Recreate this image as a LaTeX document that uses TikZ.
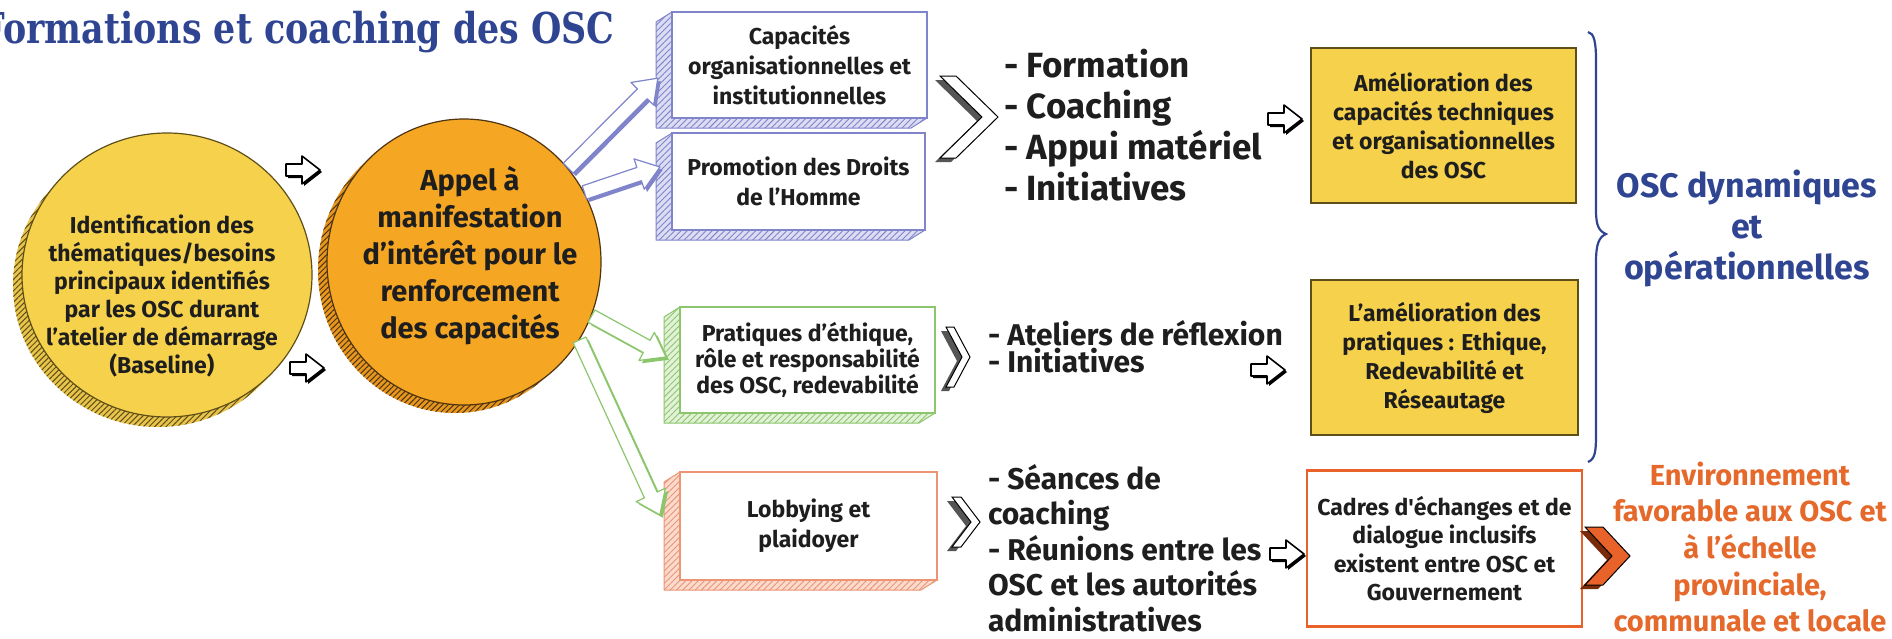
\documentclass[tikz,border=0pt]{standalone}
\usepackage{fontspec}
\setmainfont{Fira Sans}
\newfontfamily\titlefont[FakeStretch=0.82]{DejaVu Serif}
\usetikzlibrary{shapes.geometric,patterns,patterns.meta,calc,decorations.pathmorphing}
\definecolor{titleblue}{HTML}{2F4592}
\definecolor{cyellow}{HTML}{F6D24C}
\definecolor{cyellowsh}{HTML}{E9C44A}
\definecolor{yellowedge}{HTML}{5E4E18}
\definecolor{corange}{HTML}{F5A623}
\definecolor{corangesh}{HTML}{E7961E}
\definecolor{orangeedge}{HTML}{4E3410}
\definecolor{bluehatch}{HTML}{7F84CB}
\definecolor{bluelight}{HTML}{DCDDF2}
\definecolor{greenhatch}{HTML}{8CC66C}
\definecolor{greenlight}{HTML}{E3F1D9}
\definecolor{salmonhatch}{HTML}{EC9474}
\definecolor{salmonlight}{HTML}{FADBCD}
\definecolor{orangetext}{HTML}{E6692C}
\definecolor{orangeline}{HTML}{E8622A}
\definecolor{orangedark}{HTML}{7A2A08}
\definecolor{darktext}{HTML}{1E1E1E}
\definecolor{chevshade}{HTML}{555555}

\tikzset{
  dbody/.style={text=darktext, align=center, inner sep=0pt, outer sep=0pt},
  dface/.style={draw=#1, line width=0.6pt, fill=white, inner sep=0pt, outer sep=0pt},
  dwobbly/.style={decorate, decoration={random steps, segment length=14pt, amplitude=0.5pt}},
  dybox/.style={draw=yellowedge, line width=0.7pt, fill=cyellow, inner sep=0pt, outer sep=0pt},
  dlist/.style={text=darktext, align=left, inner sep=0pt, outer sep=0pt, anchor=west},
}

\newcommand\fatarrow[4]{%
  \path let \p1=(#1),\p2=(#2),\n1={atan2(\y2-\y1,\x2-\x1)},\n2={veclen(\x2-\x1,\y2-\y1)} in
    \pgfextra{\pgfmathsetmacro\tmpa{\n1}\global\let\FAang\tmpa
      \pgfmathsetmacro\tmpb{\n2}\global\let\FAlen\tmpb
      \xdef\FAx{\x1}\xdef\FAy{\y1}};
  \begin{scope}[shift={({\FAx+1.4pt},{\FAy-1.4pt})},rotate=\FAang]
    \fill[#4] (0pt,-3.5pt) -- ({\FAlen*1pt-11pt},-3.5pt) -- ({\FAlen*1pt-11pt},-8pt) -- ({\FAlen*1pt},0pt) -- ({\FAlen*1pt-11pt},8pt) -- ({\FAlen*1pt-11pt},3.5pt) -- (0pt,3.5pt) -- cycle;
  \end{scope}
  \begin{scope}[shift={(\FAx,\FAy)},rotate=\FAang]
    \filldraw[fill=#3,draw=#4,line width=0.6pt,line join=round] (0pt,-3.5pt) -- ({\FAlen*1pt-11pt},-3.5pt) -- ({\FAlen*1pt-11pt},-8pt) -- ({\FAlen*1pt},0pt) -- ({\FAlen*1pt-11pt},8pt) -- ({\FAlen*1pt-11pt},3.5pt) -- (0pt,3.5pt) -- cycle;
  \end{scope}
}

\newcommand\hollowarrow[2]{%
  \begin{scope}[shift={(#1,#2)}]
    \fill[black] (-15,-4) -- (1,-4) -- (1,-12) -- (19,2) -- (1,16) -- (1,8) -- (-15,8) -- cycle;
    \filldraw[fill=white,draw=black,line width=0.8pt,line join=round] (-17,-6) -- (-1,-6) -- (-1,-14) -- (17,0) -- (-1,14) -- (-1,6) -- (-17,6) -- cycle;
  \end{scope}}

\newcommand\chevron[7]{%
  \fill[#7] ({#1-5},{#2+4}) -- ++(#5,0) -- ++({#3-#5},{#4/2}) -- ++({#5-#3},{#4/2}) -- ++(-#5,0) -- ++({#3-#5},{-#4/2}) -- cycle;
  \filldraw[fill=#6,draw=black,line width=0.5pt] (#1,#2) -- ++(#5,0) -- ++({#3-#5},{#4/2}) -- ++({#5-#3},{#4/2}) -- ++(-#5,0) -- ++({#3-#5},{-#4/2}) -- cycle;
}

\newcommand\extrude[3]{%
  \fill[#3] (#1.north west) -- ++(-16,10) -- ([shift={(-16,10)}]#1.south west) -- ([shift={(-16,10)}]#1.south east) -- (#1.south east) -- (#1.south west) -- cycle;
  \fill[pattern={Lines[angle=45,distance=2.2pt,line width=0.45pt]}, pattern color=#2] (#1.north west) -- ++(-16,10) -- ([shift={(-16,10)}]#1.south west) -- ([shift={(-16,10)}]#1.south east) -- (#1.south east) -- (#1.south west) -- cycle;
  \draw[#2, line width=0.5pt, line join=round] (#1.north west) -- ++(-16,10) -- ([shift={(-16,10)}]#1.south west) -- ([shift={(-16,10)}]#1.south east) -- (#1.south east);
  \draw[#2, line width=0.6pt] (#1.north west) rectangle (#1.south east);
}

\begin{document}
\begin{tikzpicture}[x=0.5pt,y=-0.5pt]
\useasboundingbox (0,0) rectangle (1892,638);
\clip (0,0) rectangle (1892,638);
\fill[white] (0,0) rectangle (1892,638);

% title
\node[anchor=base west, inner sep=0pt, text=titleblue, font=\titlefont\bfseries\fontsize{21.25}{24}\selectfont] (title) at (-20,43) {Formations et coaching des OSC};

% circles
\fill[cyellowsh] (158,285) ellipse [x radius=72.5pt, y radius=71pt];
\fill[pattern={Lines[angle=45,distance=2pt,line width=0.5pt]}, pattern color=yellowedge] (158,285) ellipse [x radius=72.5pt, y radius=71pt];
\node[ellipse, minimum width=145pt, minimum height=142pt, inner sep=0pt, fill=cyellow, draw=yellowedge, line width=0.6pt] (ident) at (167,275) {};
\node[dbody, font=\bfseries\fontsize{11.5}{14}\selectfont] (identtxt) at (162,296) {Identification des\\thématiques/besoins\\principaux identifiés\\par les OSC durant\\l’atelier de démarrage\\(Baseline)};

\fill[corangesh] (455,270) ellipse [x radius=68.5pt, y radius=71.5pt];
\fill[pattern={Lines[angle=45,distance=2pt,line width=0.5pt]}, pattern color=orangeedge] (455,270) ellipse [x radius=68.5pt, y radius=71.5pt];
\node[ellipse, minimum width=137pt, minimum height=143pt, inner sep=0pt, fill=corange, draw=orangeedge, line width=0.6pt] (call) at (464,262) {};
\node[dbody, font=\bfseries\fontsize{14.5}{18.5}\selectfont] (calltxt) at (470,256) {Appel à\\manifestation\\d’intérêt pour le\\renforcement\\des capacités};

\hollowarrow{303}{170}
\hollowarrow{307}{368}

% theme boxes
\node[dface=bluehatch, dbody, minimum width=127.5pt, minimum height=53pt, font=\bfseries\fontsize{11.5}{15}\selectfont] (cap) at (799.5,65) {Capacités\\organisationnelles et\\institutionnelles};
\extrude{cap}{bluehatch}{bluelight}
\node[dface=bluehatch, dbody, minimum width=126.5pt, minimum height=48.5pt, font=\bfseries\fontsize{11.5}{15}\selectfont] (droits) at (798.5,181.5) {Promotion des Droits\\de l’Homme};
\extrude{droits}{bluehatch}{bluelight}
\node[dface=greenhatch, dbody, minimum width=127.5pt, minimum height=53pt, font=\bfseries\fontsize{11.5}{13}\selectfont] (ethique) at (807.5,360) {Pratiques d’éthique,\\rôle et responsabilité\\des OSC, redevabilité};
\extrude{ethique}{greenhatch}{greenlight}
\node[dface=salmonhatch, dbody, minimum width=128.5pt, minimum height=54pt, font=\bfseries\fontsize{11.5}{15}\selectfont] (lobby) at (808.5,526) {Lobbying et\\plaidoyer};
\extrude{lobby}{salmonhatch}{salmonlight}

% fat arrows
\coordinate (tipA) at (658,78);
\coordinate (tipB) at (660,167);
\coordinate (tipC) at (666,357);
\coordinate (tipD) at (660,515);
\fatarrow{call.42}{tipA}{white}{bluehatch}
\fatarrow{call.30}{tipB}{white}{bluehatch}
\fatarrow{call.-23}{tipC}{white}{greenhatch}
\fatarrow{call.-34}{tipD}{white}{greenhatch}

% chevrons
\chevron{940}{76}{58}{82}{16}{white}{chevshade}
\chevron{946}{327}{24}{60}{8}{white}{chevshade}
\chevron{952}{497}{28}{50}{9}{white}{chevshade}

% lists
\node[dlist, font=\bfseries\fontsize{17.5}{20.5}\selectfont] (moyens1) at (1004,125) {- Formation\\- Coaching\\- Appui matériel\\- Initiatives};
\node[dlist, font=\bfseries\fontsize{15}{13.5}\selectfont] (moyens2) at (988,346.5) {- Ateliers de réflexion\\- Initiatives};
\node[dlist, font=\bfseries\fontsize{15}{17.8}\selectfont] (moyens3) at (988,548) {- Séances de\\coaching\\- Réunions entre les\\OSC et les autorités\\administratives};

\hollowarrow{1285}{119}
\hollowarrow{1268}{370}
\hollowarrow{1287}{554}

% result boxes
\node[dybox, dbody, minimum width=132.5pt, minimum height=77.5pt, font=\bfseries\fontsize{11.5}{14.5}\selectfont] (amel) at (1443.5,125.5) {Amélioration des\\capacités techniques\\et organisationnelles\\des OSC};
\node[dybox, dbody, minimum width=133.5pt, minimum height=77.5pt, font=\bfseries\fontsize{11.5}{14.5}\selectfont] (prat) at (1444.5,357.5) {L’amélioration des\\pratiques : Ethique,\\Redevabilité et\\Réseautage};
\node[dbody, draw=orangeline, line width=1.1pt, fill=white, minimum width=137.5pt, minimum height=78pt, font=\bfseries\fontsize{11.5}{14.3}\selectfont] (cadres) at (1444.5,548.5) {Cadres d\textquotesingle échanges et de\\dialogue inclusifs\\existent entre OSC et\\Gouvernement};

% brace
\draw[titleblue, line width=1.1pt] (1588,32) .. controls (1594,33) and (1596,42) .. (1596,60) -- (1596,210) .. controls (1596,226) and (1599,231) .. (1606,234) .. controls (1599,237) and (1596,244) .. (1596,262) -- (1596,435) .. controls (1596,452) and (1595,459) .. (1588,462);

\chevron{1585}{527}{45}{58}{18}{orangeline}{orangedark}

% outcomes
\node[dbody, text=titleblue, font=\bfseries\fontsize{17}{20.5}\selectfont] (osc) at (1747,228) {OSC dynamiques\\et\\opérationnelles};
\node[dbody, text=orangetext, font=\bfseries\fontsize{14.5}{18.3}\selectfont] (env) at (1750,547) {Environnement\\favorable aux OSC et\\à l’échelle\\provinciale,\\communale et locale};
\end{tikzpicture}
\end{document}
